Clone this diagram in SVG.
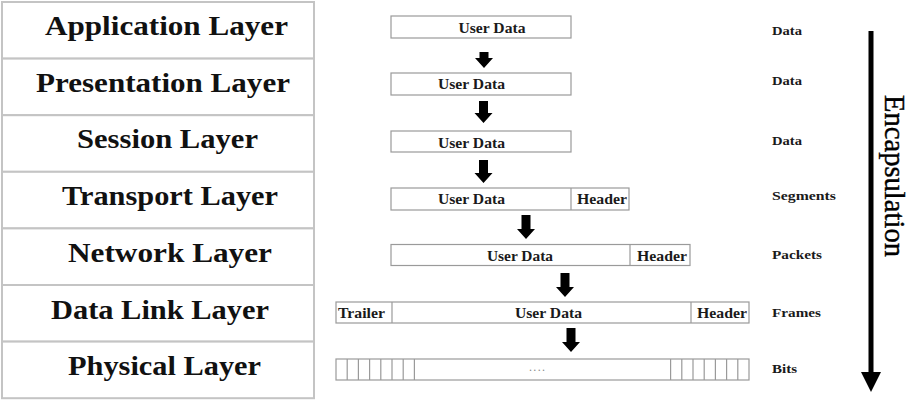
<svg xmlns="http://www.w3.org/2000/svg" width="911" height="402" viewBox="0 0 911 402">
<style>
.cell{fill:#fff;stroke:#c4c4c4;stroke-width:2}
.lbl{font-family:"Liberation Serif",serif;font-weight:bold;font-size:27px;fill:#111;text-anchor:middle}
.box{fill:#fff;stroke:#9a9a9a;stroke-width:1.2}
.sep{stroke:#9a9a9a;stroke-width:1.2}
.t{font-family:"Liberation Serif",serif;font-weight:bold;font-size:14px;fill:#1a1a1a;text-anchor:middle}
.r{font-family:"Liberation Serif",serif;font-weight:bold;font-size:13.5px;fill:#1a1a1a}
.arr{fill:#000}
</style>
<rect width="911" height="402" fill="#fff"/>
<g id="layers">
<g id="application"><rect class="cell" x="2" y="2" width="312" height="56.6"/><text class="lbl" x="166.5" y="35" textLength="243" lengthAdjust="spacingAndGlyphs">Application Layer</text></g>
<g id="presentation"><rect class="cell" x="2" y="58.6" width="312" height="56.6"/><text class="lbl" x="163" y="92" textLength="254" lengthAdjust="spacingAndGlyphs">Presentation Layer</text></g>
<g id="session"><rect class="cell" x="2" y="115.2" width="312" height="56.6"/><text class="lbl" x="167.5" y="148" textLength="181" lengthAdjust="spacingAndGlyphs">Session Layer</text></g>
<g id="transport"><rect class="cell" x="2" y="171.8" width="312" height="56.6"/><text class="lbl" x="170" y="205" textLength="216" lengthAdjust="spacingAndGlyphs">Transport Layer</text></g>
<g id="network"><rect class="cell" x="2" y="228.4" width="312" height="56.6"/><text class="lbl" x="170" y="262" textLength="204" lengthAdjust="spacingAndGlyphs">Network Layer</text></g>
<g id="datalink"><rect class="cell" x="2" y="285" width="312" height="56.6"/><text class="lbl" x="160" y="319" textLength="218" lengthAdjust="spacingAndGlyphs">Data Link Layer</text></g>
<g id="physical"><rect class="cell" x="2" y="341.6" width="312" height="56.6"/><text class="lbl" x="164.5" y="375" textLength="193" lengthAdjust="spacingAndGlyphs">Physical Layer</text></g>
</g>
<g id="pdu-app"><rect class="box" x="391" y="16" width="180" height="22"/><text class="t" x="492" y="33" textLength="67" lengthAdjust="spacingAndGlyphs">User Data</text></g>
<g id="pdu-pres"><rect class="box" x="391" y="73" width="180" height="22"/><text class="t" x="471.5" y="89" textLength="67" lengthAdjust="spacingAndGlyphs">User Data</text></g>
<g id="pdu-sess"><rect class="box" x="391" y="131" width="180" height="21"/><text class="t" x="471.5" y="148" textLength="67" lengthAdjust="spacingAndGlyphs">User Data</text></g>
<g id="pdu-trans"><rect class="box" x="391" y="188" width="238" height="22"/><line class="sep" x1="571" y1="188" x2="571" y2="210"/><text class="t" x="471.5" y="204" textLength="67" lengthAdjust="spacingAndGlyphs">User Data</text><text class="t" x="602" y="204" textLength="50" lengthAdjust="spacingAndGlyphs">Header</text></g>
<g id="pdu-net"><rect class="box" x="391" y="244.5" width="299" height="21"/><line class="sep" x1="630" y1="244.5" x2="630" y2="265.5"/><text class="t" x="520" y="261" textLength="66" lengthAdjust="spacingAndGlyphs">User Data</text><text class="t" x="662" y="261" textLength="50" lengthAdjust="spacingAndGlyphs">Header</text></g>
<g id="pdu-link"><rect class="box" x="336" y="302" width="413" height="21"/><line class="sep" x1="392" y1="302" x2="392" y2="323"/><line class="sep" x1="691" y1="302" x2="691" y2="323"/><text class="t" x="361.5" y="318" textLength="47" lengthAdjust="spacingAndGlyphs">Trailer</text><text class="t" x="548.5" y="318" textLength="67" lengthAdjust="spacingAndGlyphs">User Data</text><text class="t" x="722" y="318" textLength="50" lengthAdjust="spacingAndGlyphs">Header</text></g>
<g id="pdu-phys"><rect class="box" x="336" y="359" width="413" height="21"/>
<path class="sep" fill="none" d="M347.2 359v21M358.4 359v21M369.6 359v21M380.8 359v21M392 359v21M403.2 359v21M414.4 359v21M670.6 359v21M681.8 359v21M693 359v21M704.2 359v21M715.4 359v21M726.6 359v21M737.8 359v21"/>
<text x="537" y="371" font-family="Liberation Serif,serif" font-size="12" fill="#8a8a8a" text-anchor="middle" textLength="16" lengthAdjust="spacing">....</text></g>
<g id="connectors">
<path class="arr" d="M479.5 52h9v6h4.5l-9 10l-9-10h4.5z"/>
<path class="arr" d="M479 101h9v12h4.5l-9 10l-9-10h4.5z"/>
<path class="arr" d="M479 160h9v13h4.5l-9 10l-9-10h4.5z"/>
<path class="arr" d="M521.5 215h9v14h4.5l-9 10l-9-10h4.5z"/>
<path class="arr" d="M560.5 273h9v14h4.5l-9 10l-9-10h4.5z"/>
<path class="arr" d="M566.5 328h9v14h4.5l-9 10l-9-10h4.5z"/>
<line x1="871" y1="31" x2="871" y2="375" stroke="#000" stroke-width="5"/>
<path class="arr" d="M861 372h20l-10 20z"/>
</g>
<g id="pdu-names">
<text class="r" x="772" y="35" textLength="30" lengthAdjust="spacingAndGlyphs">Data</text>
<text class="r" x="772" y="85" textLength="30" lengthAdjust="spacingAndGlyphs">Data</text>
<text class="r" x="772" y="145" textLength="30" lengthAdjust="spacingAndGlyphs">Data</text>
<text class="r" x="772" y="200" textLength="64" lengthAdjust="spacingAndGlyphs">Segments</text>
<text class="r" x="772" y="259" textLength="50" lengthAdjust="spacingAndGlyphs">Packets</text>
<text class="r" x="772" y="317" textLength="49" lengthAdjust="spacingAndGlyphs">Frames</text>
<text class="r" x="772" y="373" textLength="25" lengthAdjust="spacingAndGlyphs">Bits</text>
</g>
<text id="encapsulation" transform="translate(885 176) rotate(90)" font-family="Liberation Serif,serif" font-size="29" fill="#000" stroke="#000" stroke-width="0.4" text-anchor="middle" textLength="162" lengthAdjust="spacingAndGlyphs">Encapsulation</text>
</svg>
